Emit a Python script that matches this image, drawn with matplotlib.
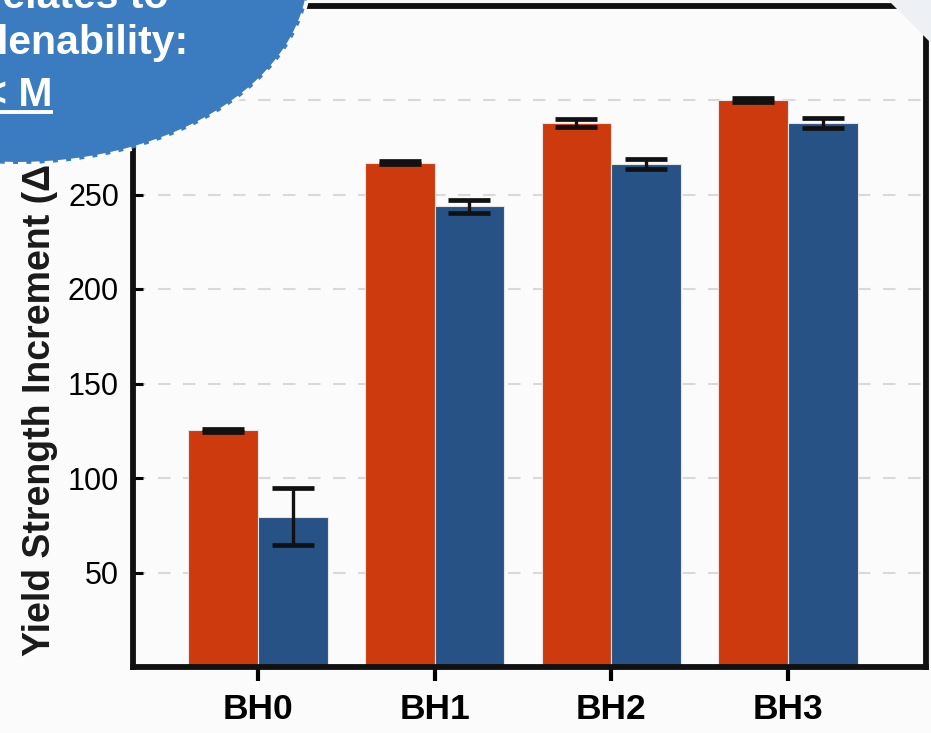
import matplotlib
matplotlib.use("Agg")
import matplotlib.pyplot as plt
from matplotlib.patches import Ellipse, Polygon
import numpy as np

plt.rcParams['font.family'] = ['Liberation Sans', 'DejaVu Sans']

groups = ["BH0", "BH1", "BH2", "BH3"]
red_vals = [125.3, 266.8, 287.9, 300.0]
red_err = [0.8, 0.8, 2.3, 1.2]
blue_vals = [79.5, 243.8, 266.2, 287.8]
blue_err = [15.2, 3.4, 2.6, 2.5]
yticks = [50, 100, 150, 200, 250, 300]

red = '#cc3a0d'
blue = '#275285'
bg = '#fbfbfb'

W, H = 931, 733
fig = plt.figure(figsize=(W / 100, H / 100), dpi=100, facecolor=bg)

# folded corner in the top right
fig.patches.append(Polygon([[888 / W, 1], [1, 1], [1, 1 - 43 / H]], closed=True,
                           transform=fig.transFigure, facecolor='#edf1f5',
                           edgecolor='none', zorder=0))

ax = fig.add_axes([133 / W, 1 - 667 / H, (926 - 133) / W, (667 - 5.5) / H])
ax.patch.set_alpha(0)

x = np.arange(len(groups))
bw = 0.395
ax.bar(x - bw / 2, red_vals, bw, color=red, edgecolor='#e6e6e6', linewidth=0.8, zorder=2)
ax.bar(x + bw / 2, blue_vals, bw, color=blue, edgecolor='#e6e6e6', linewidth=0.8, zorder=2)
ax.errorbar(x - bw / 2, red_vals, yerr=red_err, fmt='none', ecolor='#111111',
            elinewidth=2.4, capsize=15, capthick=3.4, zorder=4)
ax.errorbar(x + bw / 2, blue_vals, yerr=blue_err, fmt='none', ecolor='#111111',
            elinewidth=2.4, capsize=15, capthick=3.4, zorder=4)

ax.set_xlim(-0.706, 3.78)
ax.set_ylim(0, 350)
ax.set_yticks(yticks)
ax.set_xticks(x)
ax.set_xticklabels(groups, fontsize=25.5, fontweight='bold')
ax.tick_params(axis='y', direction='in', length=7, width=2.2, labelsize=22, pad=10)
ax.tick_params(axis='x', direction='out', length=10, width=3, pad=9)
ax.yaxis.grid(True, linestyle=(0, (6, 6)), color='#d9d9d9', linewidth=1.5, zorder=0)
ax.set_axisbelow(True)
for s in ax.spines.values():
    s.set_linewidth(4.2)
    s.set_color('#111111')

fig.text(40 / W, 1 - 656 / H, "Yield Strength Increment (\u0394YS, MPa)",
         rotation=90, ha='center', va='bottom', fontsize=27, fontweight='bold',
         color='#1a1a1a')

# callout bubble
ov = fig.add_axes([0, 0, 1, 1], zorder=10)
ov.set_xlim(0, W)
ov.set_ylim(H, 0)
ov.axis('off')
ov.add_patch(Ellipse((18, -28), 2 * 292, 2 * 192, facecolor='#3b7bbf',
                     edgecolor='white', linewidth=3, linestyle=(0, (2, 1.2))))
ov.text(168, 8, "Correlates to", ha='right', va='baseline', color='white',
        fontsize=29.5, fontweight='bold')
ov.text(188, 54, "Hardenability:", ha='right', va='baseline', color='white',
        fontsize=29.5, fontweight='bold')
ov.text(53, 106, "B < M", ha='right', va='baseline', color='white',
        fontsize=29.5, fontweight='bold')
ov.plot([-10, 53], [112, 112], color='white', linewidth=2.8, solid_capstyle='butt')

fig.savefig("out.png", dpi=100, facecolor=bg)
